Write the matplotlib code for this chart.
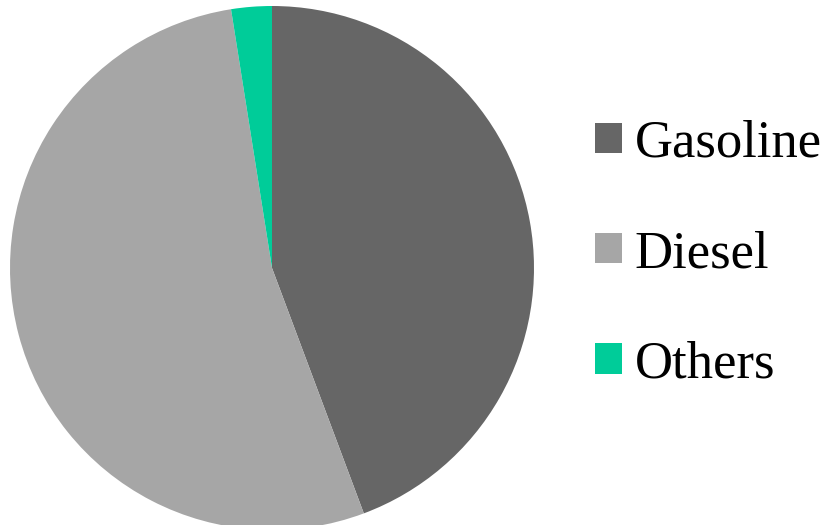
import matplotlib
matplotlib.use("Agg")
import matplotlib.pyplot as plt

categories = ["Gasoline", "Diesel", "Others"]
shares = [44.3, 53.2, 2.5]
colors = ["#666666", "#a6a6a6", "#00cc99"]

W, H = 826, 525
fig = plt.figure(figsize=(W / 100, H / 100), dpi=100)
fig.patch.set_facecolor("white")
ax = fig.add_axes([0, 0, 1, 1])

wedges, _ = ax.pie(shares, colors=colors, startangle=90, counterclock=False,
                   center=(272, H - 268), radius=262,
                   wedgeprops=dict(linewidth=0), frame=True)
ax.set_xlim(0, W)
ax.set_ylim(0, H)
ax.set_axis_off()

leg = fig.legend(wedges, categories, loc="center left",
                 bbox_to_anchor=(595 / W, 1 - 254 / H),
                 frameon=False, borderpad=0, borderaxespad=0,
                 prop=dict(family="Liberation Serif", size=38),
                 handlelength=0.51, handleheight=0.51, handletextpad=0.24,
                 labelspacing=1.18)

fig.savefig("out.png", dpi=100, facecolor="white")
